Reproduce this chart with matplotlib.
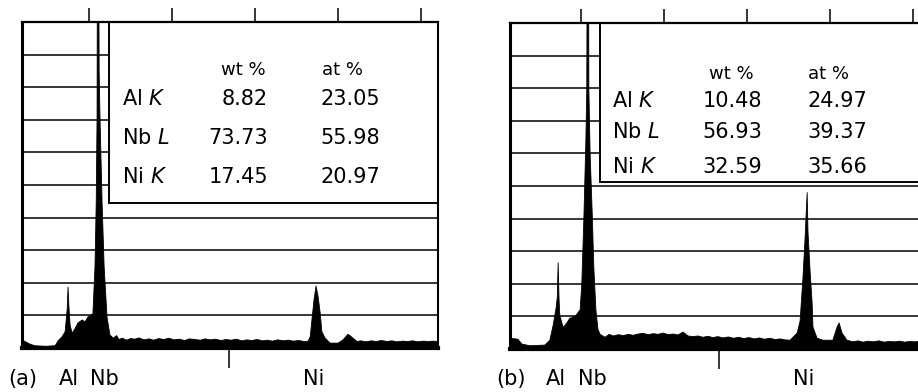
"""EDS spectra of two Al-Nb-Ni areas, (a) and (b), with quantification insets."""
import matplotlib
matplotlib.use("Agg")
import matplotlib.pyplot as plt
from matplotlib.patches import Rectangle

W, H = 918, 392
plt.rcParams.update({
    "font.family": "DejaVu Sans", "mathtext.fontset": "dejavusans",
    "text.color": "black",
})

# spectrum (a): energy (keV) vs height in screen divisions (10 = full scale,
# the Nb L peak runs off scale)
kev_a = [0.38, 0.45, 0.57, 0.69, 0.94, 1.18, 1.25, 1.35, 1.42, 1.47, 1.49, 1.51, 1.54,
         1.59, 1.66, 1.73, 1.83, 1.90, 1.97, 2.04, 2.09, 2.14, 2.17, 2.19, 2.21, 2.24, 2.26, 2.31, 2.36, 2.43, 2.50,
         2.58, 2.66, 2.72, 2.80, 2.90, 3.00, 3.10, 3.20, 3.32, 3.45, 3.55, 3.68, 3.80, 3.92, 4.05, 4.18, 4.30, 4.42, 4.55, 4.68,
         4.80, 4.92, 5.05, 5.18, 5.30, 5.42, 5.55, 5.68, 5.80, 5.92, 6.05, 6.18, 6.30, 6.42, 6.55, 6.68, 6.80, 6.92, 7.05, 7.18,
         7.28, 7.33, 7.37, 7.42, 7.47, 7.52, 7.57, 7.61, 7.69, 7.81, 8.00, 8.12, 8.19, 8.24, 8.29, 8.36, 8.46,
         8.55, 8.68, 8.80, 8.92, 9.05, 9.18, 9.30, 9.42, 9.55, 9.68, 9.80, 9.92, 10.05, 10.18, 10.30, 10.41]
cnt_a = [0.25, 0.20, 0.12, 0.07, 0.05, 0.07, 0.22, 0.35, 0.50, 1.20, 1.87, 1.30, 0.70,
         0.45, 0.60, 0.77, 0.86, 0.80, 0.95, 1.00, 1.05, 2.50, 4.50, 7.10, 20.0, 8.50, 7.10, 4.50, 2.50, 0.95, 0.40,
         0.30, 0.38, 0.26, 0.30, 0.24, 0.29, 0.27, 0.31, 0.25, 0.28, 0.24, 0.29, 0.26, 0.30, 0.25, 0.27, 0.23, 0.28, 0.26, 0.24,
         0.28, 0.25, 0.27, 0.23, 0.26, 0.24, 0.27, 0.22, 0.25, 0.23, 0.26, 0.22, 0.24, 0.21, 0.25, 0.22, 0.24, 0.21, 0.23, 0.20,
         0.21, 0.35, 0.86, 1.47, 1.90, 1.57, 1.07, 0.50, 0.30, 0.15, 0.15, 0.25, 0.35, 0.42, 0.38, 0.30, 0.20,
         0.22, 0.19, 0.22, 0.20, 0.23, 0.20, 0.22, 0.19, 0.21, 0.20, 0.22, 0.19, 0.21, 0.20, 0.21, 0.20]

# spectrum (b)
kev_b = [0.29, 0.48, 0.58, 0.77, 1.13, 1.25, 1.33, 1.40, 1.43, 1.45, 1.47, 1.49,
         1.57, 1.66, 1.73, 1.86, 1.98, 2.02, 2.07, 2.12, 2.14, 2.17, 2.19, 2.22, 2.27, 2.31, 2.36, 2.41, 2.46,
         2.58, 2.68, 2.78, 2.90, 3.02, 3.14, 3.26, 3.38, 3.50, 3.62, 3.74, 3.86, 3.98, 4.10, 4.22, 4.34, 4.46, 4.58, 4.70,
         4.82, 4.94, 5.06, 5.18, 5.30, 5.42, 5.55, 5.68, 5.80, 5.92, 6.05, 6.18, 6.30, 6.42, 6.55, 6.68, 6.80, 6.92, 7.04,
         7.21, 7.28, 7.35, 7.40, 7.45, 7.47, 7.52, 7.57, 7.59, 7.69, 7.83, 8.07, 8.17, 8.22, 8.29, 8.41, 8.55,
         8.68, 8.80, 8.92, 9.05, 9.18, 9.30, 9.42, 9.55, 9.68, 9.80, 9.92, 10.05, 10.18, 10.30, 10.41]
cnt_b = [0.33, 0.30, 0.15, 0.10, 0.12, 0.27, 0.73, 1.25, 1.60, 2.65, 1.60, 1.03,
         0.66, 0.80, 0.94, 1.00, 1.20, 2.00, 4.00, 6.50, 8.00, 20.0, 8.00, 6.00, 4.20, 2.50, 1.20, 0.60, 0.45,
         0.36, 0.45, 0.40, 0.44, 0.41, 0.45, 0.42, 0.46, 0.48, 0.44, 0.47, 0.45, 0.49, 0.44, 0.46, 0.43, 0.52, 0.40, 0.38,
         0.40, 0.36, 0.39, 0.35, 0.38, 0.34, 0.37, 0.33, 0.36, 0.32, 0.35, 0.31, 0.34, 0.30, 0.33, 0.29, 0.31, 0.28, 0.27,
         0.49, 0.86, 2.20, 3.40, 4.80, 3.60, 2.40, 1.40, 0.67, 0.33, 0.27, 0.27, 0.67, 0.80, 0.49, 0.27, 0.22,
         0.25, 0.21, 0.24, 0.22, 0.25, 0.21, 0.23, 0.22, 0.24, 0.21, 0.23, 0.22, 0.24, 0.21, 0.22]

lines = ["Al $K$", "Nb $L$", "Ni $K$"]
wt_a = ["8.82", "73.73", "17.45"]
at_a = ["23.05", "55.98", "20.97"]
wt_b = ["10.48", "56.93", "32.59"]
at_b = ["24.97", "39.37", "35.66"]
peak_names = ["Al", "Nb", "Ni"]
top_ticks = [2, 4, 6, 8, 10]

fig = plt.figure(figsize=(W / 100, H / 100), dpi=100)


def px_text(x, y, s, **kw):
    fig.text(x / W, 1 - y / H, s, **kw)


def panel(left, right, top, bottom, xlim, kev, cnt, box, marker):
    ax = fig.add_axes([left / W, 1 - bottom / H, (right - left) / W, (bottom - top) / H])
    ax.set_xlim(*xlim)
    ax.set_ylim(0, 10)
    for y in range(1, 10):
        ax.axhline(y, color="black", lw=1.1, zorder=1)
    # quantification inset box hides the upper graticule
    ax.add_patch(Rectangle((box[0], box[1]), xlim[1] - box[0], 10 - box[1],
                           fc="white", ec="black", lw=1.4, zorder=2))
    ax.fill_between(kev, 0, cnt, color="black", lw=0.6, zorder=3)
    ax.set_yticks([])
    ax.xaxis.set_ticks_position("top")
    ax.set_xticks(top_ticks)
    ax.set_xticklabels([])
    ax.tick_params(axis="x", direction="out", length=10, width=1.1)
    for side, lw in (("left", 2.2), ("top", 1.6), ("bottom", 3.0), ("right", 1.5)):
        ax.spines[side].set_linewidth(lw)
    sec = ax.secondary_xaxis("bottom")
    sec.set_xticks([marker])
    sec.set_xticklabels([])
    sec.tick_params(direction="out", length=14.5, width=1.1)
    sec.spines["bottom"].set_visible(False)
    return ax


panel(22, 438, 22, 348, (0.38, 10.41), kev_a, cnt_a, (2.48, 4.45), 5.37)
panel(510, 930, 23, 349, (0.29, 10.41), kev_b, cnt_b, (2.46, 5.13), 5.33)


def inset(x_lab, x_wt, x_at, x_wt_hdr, x_at_hdr, y_hdr, ys, wt, at):
    px_text(x_wt_hdr, y_hdr, "wt %", ha="center", va="center", fontsize=13)
    px_text(x_at_hdr, y_hdr, "at %", ha="center", va="center", fontsize=13)
    for y, lab, w, a in zip(ys, lines, wt, at):
        px_text(x_lab, y, lab, ha="left", va="center", fontsize=15)
        px_text(x_wt, y, w, ha="right", va="center", fontsize=15)
        px_text(x_at, y, a, ha="right", va="center", fontsize=15)


inset(122, 268, 380, 243, 342, 70, [99, 138, 177], wt_a, at_a)
inset(612, 762, 867, 731, 829, 74, [101, 132, 167], wt_b, at_b)

# peak identification under each spectrum
px_text(8, 379, "(a)", ha="left", va="center", fontsize=15)
for x, s in zip([69, 104, 314], peak_names):
    px_text(x, 379, s, ha="center", va="center", fontsize=15)
px_text(496, 379, "(b)", ha="left", va="center", fontsize=15)
for x, s in zip([556, 592, 804], peak_names):
    px_text(x, 379, s, ha="center", va="center", fontsize=15)

fig.savefig("out.png", dpi=100, facecolor="white")
